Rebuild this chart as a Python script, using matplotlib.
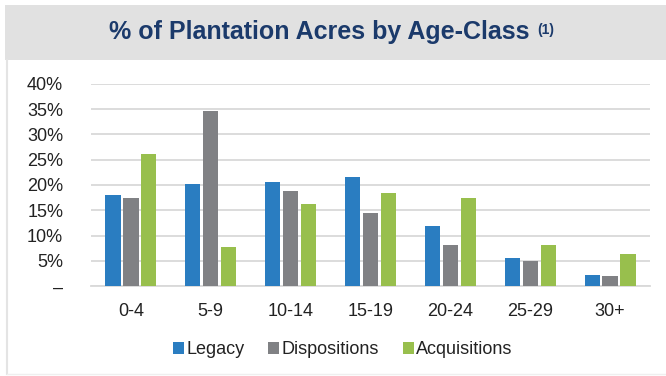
import numpy as np
import matplotlib as mpl
import matplotlib.pyplot as plt
from matplotlib.patches import Rectangle
from matplotlib.lines import Line2D

mpl.rcParams['font.family'] = ['Liberation Sans', 'DejaVu Sans']

age_classes = ["0-4", "5-9", "10-14", "15-19", "20-24", "25-29", "30+"]
legacy = [18.1, 20.1, 20.6, 21.6, 11.9, 5.6, 2.2]
dispositions = [17.5, 34.7, 18.8, 14.5, 8.2, 4.9, 1.9]
acquisitions = [26.1, 7.7, 16.2, 18.4, 17.4, 8.2, 6.4]
y_ticks = [0, 5, 10, 15, 20, 25, 30, 35, 40]
y_labels = ["–", "5%", "10%", "15%", "20%", "25%", "30%", "35%", "40%"]

W, H = 666, 376
fig = plt.figure(figsize=(W / 100, H / 100), dpi=100)

# title band + panel frame
fig.patches.append(Rectangle((5 / W, 1 - 60 / H), 1, 55 / H, transform=fig.transFigure,
                             facecolor="#e1e1e1", edgecolor="none", zorder=0))
fig.lines.append(Line2D([7 / W, 7 / W], [1 - 374 / H, 1 - 60 / H], transform=fig.transFigure,
                        color="#e4e4e4", lw=1.5))
fig.lines.append(Line2D([7 / W, 1], [1 - 374 / H, 1 - 374 / H], transform=fig.transFigure,
                        color="#efefef", lw=1))
fig.text(319 / W, 1 - 39 / H, "% of Plantation Acres by Age-Class", ha="center", va="baseline",
         fontsize=18, fontweight="bold", color="#1b3a6b")
fig.text(537 / W, 1 - 34 / H, "(1)", ha="left", va="baseline",
         fontsize=10, fontweight="bold", color="#1b3a6b")

ax = fig.add_axes([91 / W, 1 - 286 / H, (650 - 91) / W, (286 - 84) / H])
x = np.arange(len(age_classes))
w = 0.19
step = 0.225
ax.bar(x - step, legacy, w, color="#2a7dc1", label="Legacy", zorder=3)
ax.bar(x, dispositions, w, color="#808184", label="Dispositions", zorder=3)
ax.bar(x + step, acquisitions, w, color="#98bf4d", label="Acquisitions", zorder=3)

ax.set_xlim(-0.5, len(age_classes) - 0.5)
ax.set_ylim(0, 40)
ax.set_yticks(y_ticks)
ax.set_yticklabels(y_labels)
ax.set_xticks(x)
ax.set_xticklabels(age_classes)
ax.tick_params(axis="both", length=0, labelsize=13, colors="#222222")
ax.tick_params(axis="y", pad=20)
ax.tick_params(axis="x", pad=12)
ax.grid(axis="y", color="#d9d9d9", lw=1.3, zorder=0)
for s in ["top", "right", "left"]:
    ax.spines[s].set_visible(False)
ax.spines["bottom"].set_color("#d9d9d9")
ax.spines["bottom"].set_linewidth(1.3)

ax.legend(loc="center", bbox_to_anchor=(343 / W, 1 - 350 / H), bbox_transform=fig.transFigure,
          ncol=3, frameon=False, fontsize=13, handlelength=0.6, handleheight=0.6,
          handletextpad=0.15, columnspacing=1.3, labelcolor="#222222")

fig.savefig("out.png", dpi=100)
